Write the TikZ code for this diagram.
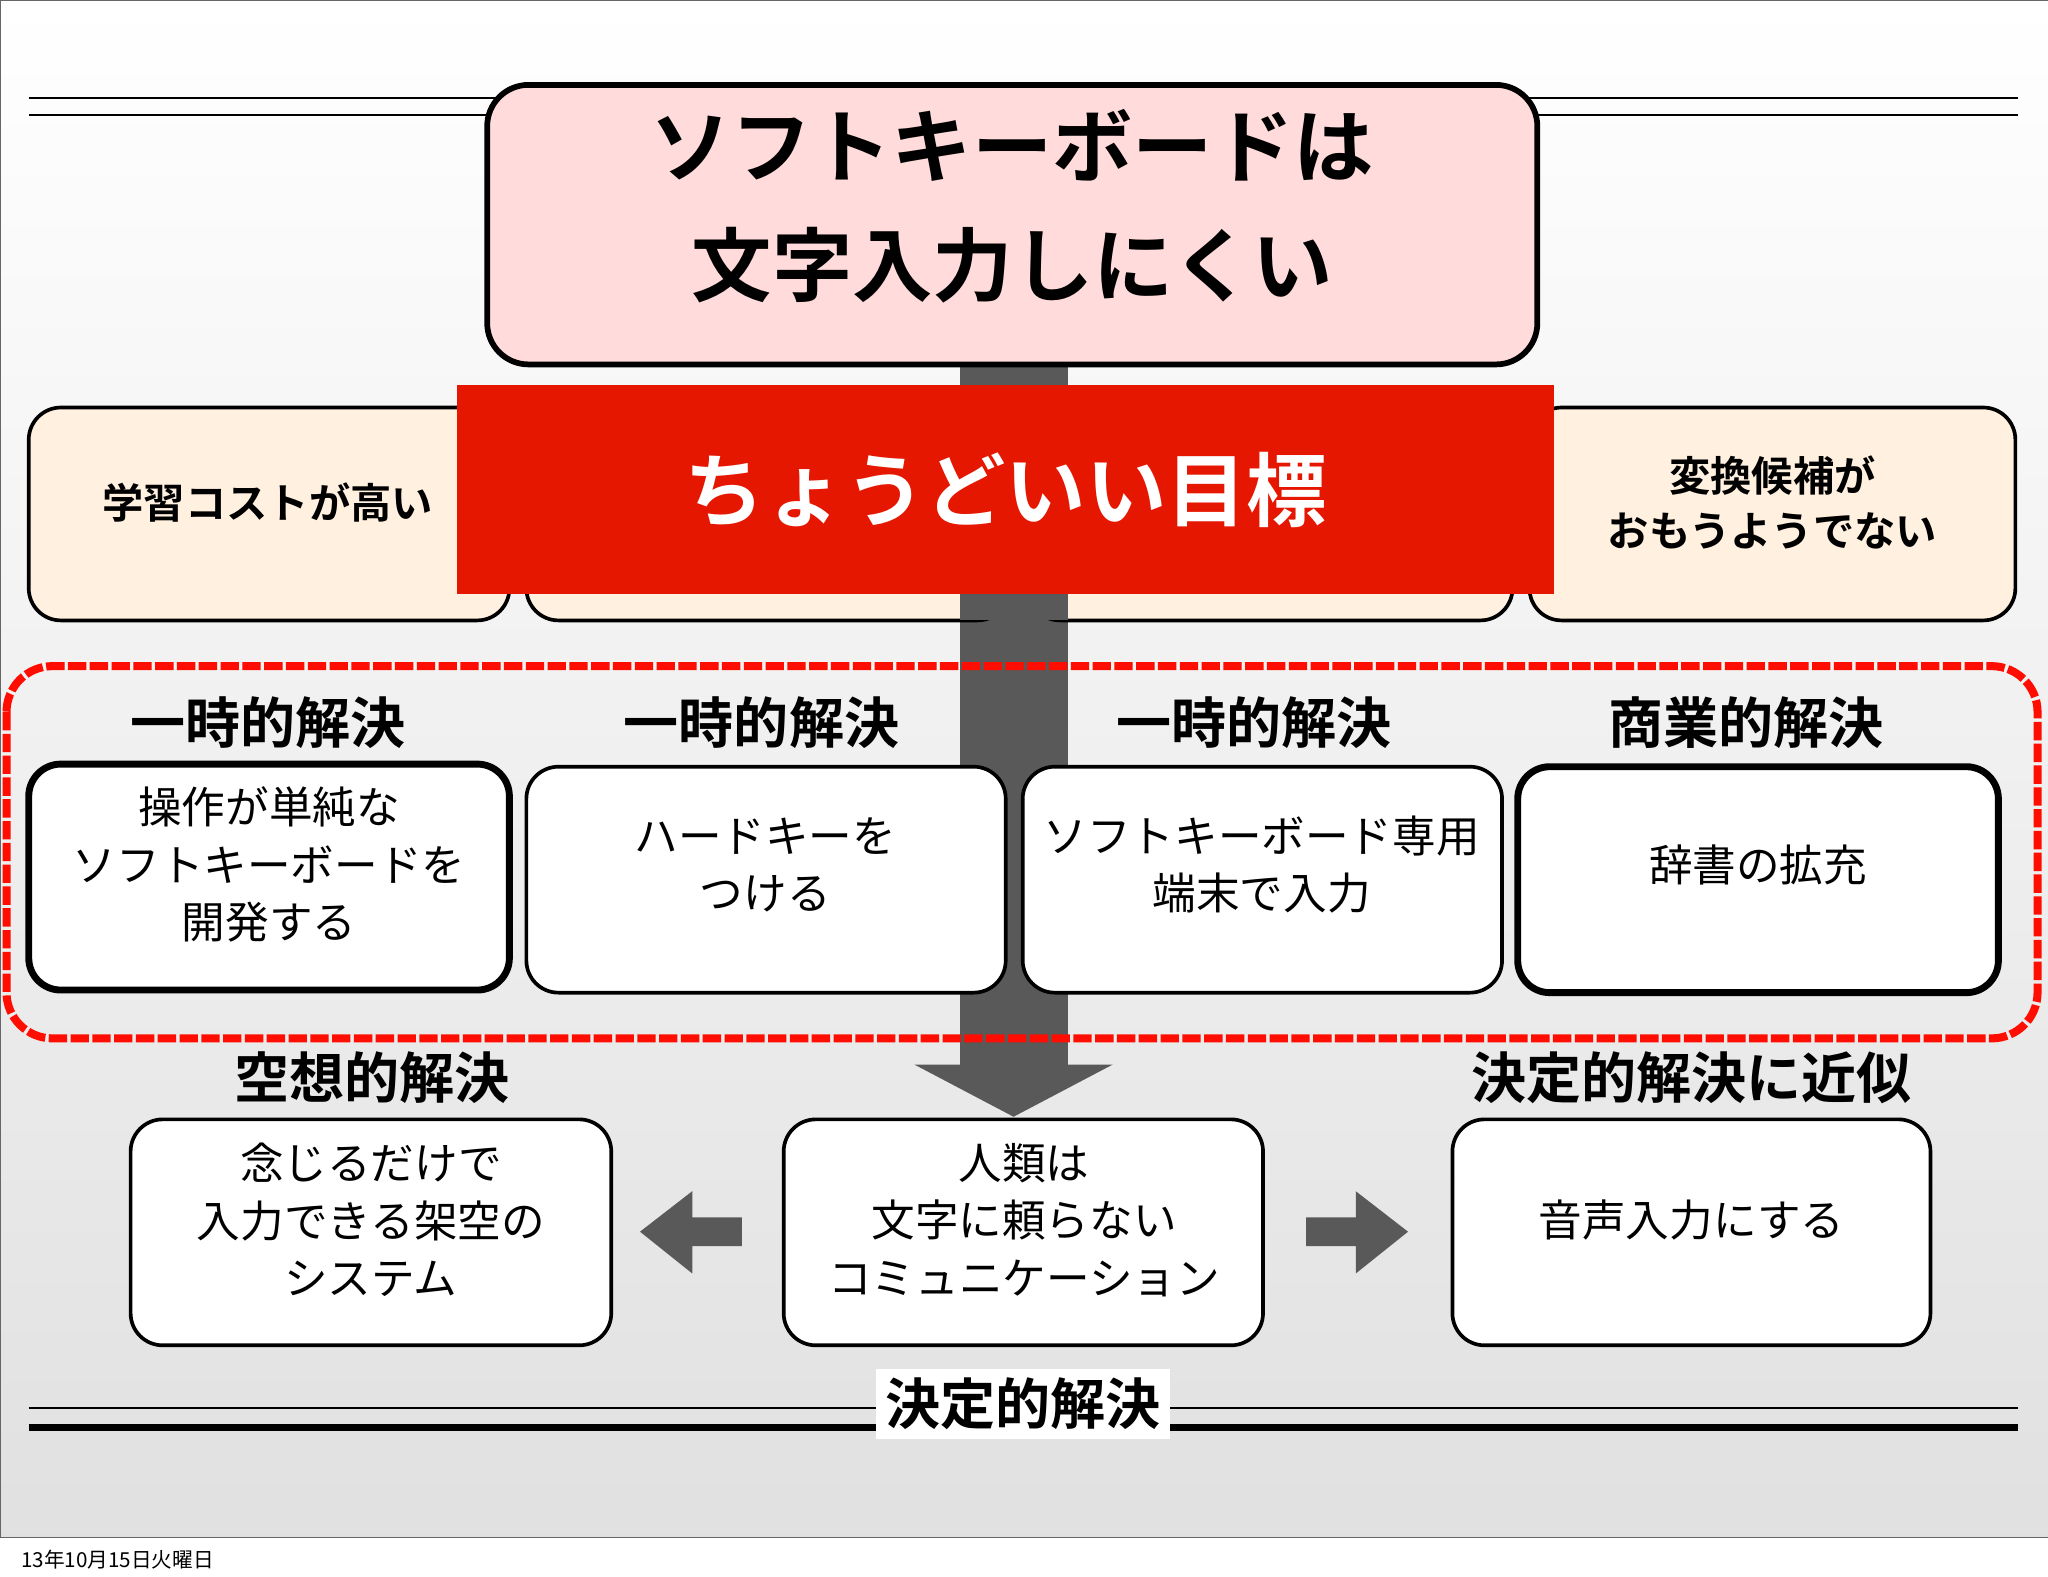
\documentclass[tikz,border=0pt]{standalone}
\usepackage{fontspec}
\setmainfont{Noto Sans CJK JP}
\newfontfamily\cjkb{Noto Sans CJK JP Bold}
\begin{document}
\begin{tikzpicture}[x=0.02cm,y=-0.02cm,
 box/.style={draw=black,line width=1.6pt,fill=white,rounded corners=14pt},
 tbox/.style={draw=black,line width=3pt,fill=white,rounded corners=14pt},
 beige/.style={draw=black,line width=1.6pt,fill=orange!12,rounded corners=14pt},
 txt/.style={align=center,font=\fontsize{19}{25}\selectfont},
 lbl/.style={font=\cjkb\fontsize{24}{28}\selectfont}]
\useasboundingbox (0,0) rectangle (1568,1207);
\shade[top color=white,bottom color=black!12] (0,0) rectangle (1568,1177);
\draw[black!60] (0,0) rectangle (1568,1177);
\node[anchor=west,font=\fontsize{9}{10}\selectfont] (date) at (10,1194) {13年10月15日火曜日};
\draw[line width=0.8pt] (22,75) -- (1545,75);
\draw[line width=0.8pt] (22,88) -- (1545,88);
\fill[black!65] (735,270) rectangle (818,815);
\fill[black!65] (700,815) -- (852,815) -- (776,855) -- cycle;
\draw[beige] (22,312) rectangle (390,475);
\draw[beige] (403,312) rectangle (773,475);
\draw[beige] (787,312) rectangle (1158,475);
\draw[beige] (1171,312) rectangle (1543,475);
\fill[black!65] (735,455) rectangle (818,475);
\node[font=\cjkb\fontsize{18}{24}\selectfont] (b1) at (205,385) {学習コストが高い};
\node[font=\cjkb\fontsize{18}{24}\selectfont,align=center] (b4) at (1357,385) {変換候補が\\おもうようでない};
\draw[line width=2.5pt,fill=red!14,rounded corners=18pt] (373,65) rectangle (1177,279);
\node[align=center,font=\cjkb\fontsize{35}{52}\selectfont] (title) at (775,158) {ソフトキーボードは\\文字入力しにくい};
\node[fill=red!80!orange!90!black,minimum width=16.8cm,minimum height=3.2cm,text=white,font=\cjkb\fontsize{35}{40}\selectfont] (goal) at (770,375) {ちょうどいい目標};
\draw[red!90!orange,line width=3.5pt,dash pattern=on 8pt off 1.5pt,rounded corners=20pt] (5,510) rectangle (1560,795);
\node[lbl] (l1) at (205,553) {一時的解決};
\node[lbl] (l2) at (583,553) {一時的解決};
\node[lbl] (l3) at (960,553) {一時的解決};
\node[lbl] (l4) at (1337,553) {商業的解決};
\draw[tbox] (22,585) rectangle (390,758);
\draw[box] (403,587) rectangle (770,760);
\draw[box] (783,587) rectangle (1150,760);
\draw[tbox] (1162,587) rectangle (1530,760);
\node[txt] (t1) at (206,662) {操作が単純な\\ソフトキーボードを\\開発する};
\node[txt] (t2) at (586,662) {ハードキーを\\つける};
\node[txt] (t3) at (966,662) {ソフトキーボード専用\\端末で入力};
\node[txt] (t4) at (1346,662) {辞書の拡充};
\node[lbl] (l5) at (285,825) {空想的解決};
\node[lbl] (l6) at (1295,825) {決定的解決に近似};
\draw[box] (100,857) rectangle (468,1030);
\draw[box] (600,857) rectangle (967,1030);
\draw[box] (1112,857) rectangle (1478,1030);
\node[txt] (u1) at (284,934) {念じるだけで\\入力できる架空の\\システム};
\node[txt] (u2) at (784,934) {人類は\\文字に頼らない\\コミュニケーション};
\node[txt] (u3) at (1295,934) {音声入力にする};
\fill[black!65] (568,932) -- (530,932) -- (530,912) -- (490,943) -- (530,975) -- (530,954) -- (568,954) -- cycle;
\fill[black!65] (1000,932) -- (1038,932) -- (1038,912) -- (1078,943) -- (1038,975) -- (1038,954) -- (1000,954) -- cycle;
\draw[line width=0.8pt] (22,1078) -- (1545,1078);
\draw[line width=3pt] (22,1093) -- (1545,1093);
\node[lbl,fill=white,inner sep=4pt] (l7) at (783,1075) {決定的解決};
\end{tikzpicture}
\end{document}
